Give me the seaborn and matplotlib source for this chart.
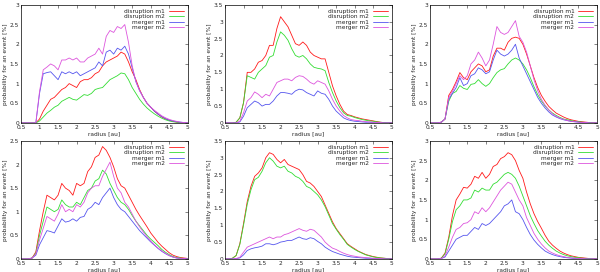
import numpy as np
import pandas as pd
import seaborn as sns
import matplotlib.pyplot as plt
from matplotlib.ticker import FormatStrFormatter

# radius grid [au], 0.5 .. 5.0 in steps of 0.1
radius = np.round(np.arange(0.5, 5.01, 0.1), 1)
series_names = ['disruption m1', 'disruption m2', 'merger m1', 'merger m2']
series_colors = ['#ff1a1a', '#33dd33', '#5555ee', '#dd55dd']

# panel 1 (top left)
p1_dis_m1 = [0, 0, 0, 0, 0, 0.1, 0.3, 0.45, 0.6, 0.65, 0.75, 0.85, 0.9, 1.0, 0.95,
             0.9, 1.05, 1.1, 1.1, 1.15, 1.25, 1.3, 1.45, 1.55, 1.6, 1.65, 1.7, 1.8, 1.75, 1.55,
             1.3, 1.1, 0.85, 0.65, 0.5, 0.4, 0.3, 0.22, 0.15, 0.1, 0.07, 0.04, 0.02, 0.01, 0.005, 0]
p1_dis_m2 = [0, 0, 0, 0, 0, 0.05, 0.15, 0.25, 0.32, 0.4, 0.45, 0.55, 0.6, 0.65, 0.6,
             0.58, 0.65, 0.72, 0.7, 0.75, 0.85, 0.88, 0.9, 1.0, 1.1, 1.15, 1.2, 1.27, 1.25, 1.1,
             0.9, 0.75, 0.6, 0.48, 0.38, 0.3, 0.23, 0.17, 0.12, 0.08, 0.05, 0.03, 0.02, 0.01, 0.005, 0]
p1_mer_m1 = [0, 0, 0, 0, 0, 0.75, 1.25, 1.28, 1.3, 1.2, 1.1, 1.3, 1.25, 1.3, 1.25,
             1.3, 1.2, 1.25, 1.3, 1.35, 1.4, 1.55, 1.45, 1.8, 1.85, 1.75, 1.9, 1.85, 1.95, 1.75,
             1.4, 1.05, 0.82, 0.65, 0.5, 0.4, 0.3, 0.22, 0.16, 0.11, 0.07, 0.05, 0.03, 0.02, 0.01, 0]
p1_mer_m2 = [0, 0, 0, 0, 0, 0.8, 1.35, 1.42, 1.5, 1.45, 1.35, 1.6, 1.6, 1.65, 1.6,
             1.65, 1.55, 1.55, 1.65, 1.7, 1.75, 1.9, 1.75, 2.2, 2.35, 2.3, 2.45, 2.4, 2.5, 2.05,
             1.45, 1.05, 0.82, 0.65, 0.5, 0.4, 0.32, 0.25, 0.18, 0.13, 0.09, 0.06, 0.04, 0.02, 0.01, 0]

# panel 2 (top middle)
p2_dis_m1 = [0, 0, 0, 0.02, 0.15, 0.6, 1.5, 1.5, 1.6, 1.8, 1.85, 2.0, 2.3, 2.3, 2.8,
             3.15, 3.0, 2.85, 2.6, 2.35, 2.3, 2.4, 2.3, 2.1, 2.0, 1.95, 1.9, 1.9, 1.5, 1.1,
             0.8, 0.55, 0.35, 0.25, 0.22, 0.18, 0.15, 0.12, 0.1, 0.08, 0.06, 0.04, 0.02, 0.01, 0.005, 0]
p2_dis_m2 = [0, 0, 0, 0.02, 0.15, 0.6, 1.4, 1.35, 1.3, 1.5, 1.6, 1.7, 1.95, 2.0, 2.4,
             2.7, 2.6, 2.45, 2.2, 2.0, 1.95, 2.0, 1.9, 1.75, 1.65, 1.62, 1.6, 1.55, 1.2, 0.9,
             0.65, 0.45, 0.3, 0.22, 0.2, 0.16, 0.13, 0.1, 0.08, 0.06, 0.05, 0.03, 0.02, 0.01, 0.005, 0]
p2_mer_m1 = [0, 0, 0, 0, 0.03, 0.2, 0.45, 0.55, 0.65, 0.6, 0.5, 0.55, 0.55, 0.65, 0.8,
             0.9, 0.9, 0.88, 0.85, 0.95, 1.0, 0.98, 0.9, 0.85, 0.8, 0.95, 0.88, 0.85, 0.7, 0.5,
             0.35, 0.25, 0.15, 0.1, 0.07, 0.05, 0.04, 0.03, 0.02, 0.02, 0.01, 0.01, 0, 0, 0, 0]
p2_mer_m2 = [0, 0, 0, 0, 0.05, 0.3, 0.65, 0.75, 0.92, 0.85, 0.75, 0.85, 0.8, 1.0, 1.2,
             1.25, 1.3, 1.3, 1.25, 1.35, 1.4, 1.38, 1.3, 1.2, 1.15, 1.25, 1.2, 1.15, 0.95, 0.7,
             0.5, 0.35, 0.22, 0.15, 0.1, 0.08, 0.07, 0.05, 0.04, 0.03, 0.02, 0.01, 0.01, 0, 0, 0]

# panel 3 (top right)
p3_dis_m1 = [0, 0, 0, 0.02, 0.1, 0.7, 0.85, 1.05, 1.28, 1.15, 1.1, 1.3, 1.4, 1.5, 1.45,
             1.3, 1.35, 1.7, 1.9, 1.9, 1.85, 2.05, 2.15, 2.18, 2.15, 2.0, 1.75, 1.45, 1.15, 0.9,
             0.7, 0.55, 0.42, 0.33, 0.25, 0.2, 0.15, 0.11, 0.08, 0.06, 0.04, 0.03, 0.02, 0.01, 0.005, 0]
p3_dis_m2 = [0, 0, 0, 0.02, 0.1, 0.55, 0.75, 0.8, 0.95, 0.88, 0.85, 0.98, 1.0, 1.1, 1.0,
             0.93, 1.0, 1.15, 1.28, 1.35, 1.38, 1.5, 1.6, 1.65, 1.6, 1.5, 1.35, 1.15, 0.92, 0.72,
             0.56, 0.43, 0.33, 0.25, 0.19, 0.14, 0.1, 0.08, 0.06, 0.04, 0.03, 0.02, 0.01, 0.01, 0, 0]
p3_mer_m1 = [0, 0, 0, 0.02, 0.1, 0.6, 0.75, 0.9, 1.15, 0.95, 1.0, 1.2, 1.25, 1.4, 1.35,
             1.25, 1.3, 1.6, 1.85, 1.75, 1.7, 1.75, 1.85, 2.0, 1.65, 1.45, 1.25, 1.05, 0.85, 0.65,
             0.5, 0.38, 0.28, 0.2, 0.15, 0.11, 0.08, 0.06, 0.04, 0.03, 0.02, 0.01, 0.01, 0, 0, 0]
p3_mer_m2 = [0, 0, 0, 0.02, 0.1, 0.65, 0.8, 1.0, 1.2, 1.1, 1.2, 1.5, 1.6, 1.8, 1.65,
             1.45, 1.6, 2.0, 2.45, 2.3, 2.25, 2.3, 2.45, 2.6, 2.2, 2.05, 1.8, 1.45, 1.1, 0.82,
             0.6, 0.45, 0.33, 0.23, 0.17, 0.12, 0.09, 0.06, 0.04, 0.03, 0.02, 0.01, 0.01, 0, 0, 0]

# panel 4 (bottom left)
p4_dis_m1 = [0, 0, 0, 0.02, 0.15, 0.6, 1.0, 1.35, 1.3, 1.25, 1.35, 1.6, 1.5, 1.45, 1.35,
             1.6, 1.55, 1.6, 1.85, 1.95, 2.15, 2.2, 2.38, 2.3, 2.15, 1.95, 1.7, 1.55, 1.5, 1.35,
             1.2, 1.05, 0.92, 0.8, 0.68, 0.55, 0.45, 0.35, 0.27, 0.2, 0.13, 0.08, 0.05, 0.03, 0.02, 0.01]
p4_dis_m2 = [0, 0, 0, 0.02, 0.12, 0.5, 0.8, 1.1, 1.05, 1.0, 1.05, 1.25, 1.15, 1.1, 1.1,
             1.2, 1.15, 1.3, 1.45, 1.5, 1.65, 1.7, 1.88, 1.8, 1.6, 1.45, 1.3, 1.2, 1.15, 1.05,
             0.92, 0.8, 0.7, 0.6, 0.5, 0.42, 0.35, 0.28, 0.2, 0.14, 0.09, 0.05, 0.03, 0.02, 0.01, 0.01]
p4_mer_m1 = [0, 0, 0, 0.02, 0.08, 0.3, 0.45, 0.6, 0.58, 0.55, 0.7, 0.85, 0.78, 0.8, 0.85,
             0.8, 0.88, 0.9, 1.05, 1.1, 1.2, 1.15, 1.3, 1.4, 1.5, 1.3, 1.15, 1.05, 1.0, 0.9,
             0.8, 0.7, 0.6, 0.52, 0.44, 0.36, 0.29, 0.22, 0.16, 0.11, 0.07, 0.04, 0.02, 0.01, 0.01, 0]
p4_mer_m2 = [0, 0, 0, 0.02, 0.1, 0.4, 0.65, 0.9, 0.85, 0.8, 0.95, 1.15, 1.0, 1.05, 1.0,
             1.15, 1.1, 1.2, 1.4, 1.5, 1.55, 1.55, 1.75, 1.9, 2.05, 1.75, 1.5, 1.4, 1.2, 1.1,
             0.95, 0.8, 0.68, 0.57, 0.47, 0.38, 0.3, 0.23, 0.17, 0.12, 0.07, 0.04, 0.02, 0.01, 0.01, 0]

# panel 5 (bottom middle)
p5_dis_m1 = [0, 0, 0.02, 0.1, 0.45, 1.05, 1.7, 2.15, 2.45, 2.55, 2.7, 3.0, 3.15, 3.1, 2.95,
             2.85, 2.95, 2.8, 2.75, 2.7, 2.65, 2.5, 2.3, 2.25, 2.15, 2.0, 1.85, 1.6, 1.35, 1.1,
             0.9, 0.75, 0.6, 0.45, 0.37, 0.3, 0.23, 0.18, 0.13, 0.1, 0.07, 0.05, 0.03, 0.02, 0.01, 0]
p5_dis_m2 = [0, 0, 0.02, 0.1, 0.43, 1.0, 1.62, 2.05, 2.35, 2.42, 2.6, 2.85, 3.0, 2.9, 2.75,
             2.7, 2.75, 2.6, 2.55, 2.45, 2.4, 2.3, 2.15, 2.1, 2.0, 1.9, 1.75, 1.55, 1.3, 1.05,
             0.88, 0.72, 0.58, 0.43, 0.35, 0.28, 0.22, 0.17, 0.12, 0.09, 0.06, 0.04, 0.03, 0.02, 0.01, 0]
p5_mer_m1 = [0, 0, 0, 0.01, 0.03, 0.12, 0.25, 0.3, 0.33, 0.35, 0.38, 0.45, 0.45, 0.42, 0.45,
             0.5, 0.52, 0.55, 0.55, 0.6, 0.65, 0.6, 0.58, 0.63, 0.6, 0.52, 0.45, 0.35, 0.28, 0.22,
             0.18, 0.14, 0.11, 0.08, 0.06, 0.05, 0.04, 0.03, 0.02, 0.02, 0.01, 0.01, 0, 0, 0, 0]
p5_mer_m2 = [0, 0, 0, 0.01, 0.05, 0.2, 0.35, 0.4, 0.45, 0.5, 0.55, 0.6, 0.65, 0.6, 0.65,
             0.65, 0.72, 0.75, 0.8, 0.85, 0.9, 0.85, 0.82, 0.88, 0.85, 0.75, 0.65, 0.5, 0.4, 0.32,
             0.28, 0.22, 0.17, 0.13, 0.1, 0.08, 0.06, 0.05, 0.04, 0.03, 0.02, 0.01, 0.01, 0, 0, 0]

# panel 6 (bottom right)
p6_dis_m1 = [0, 0, 0, 0.02, 0.15, 0.55, 1.1, 1.5, 1.65, 1.82, 1.8, 1.9, 2.1, 2.05, 2.2,
             2.05, 2.15, 2.35, 2.4, 2.55, 2.6, 2.7, 2.65, 2.5, 2.25, 2.05, 1.7, 1.4, 1.15, 0.95,
             0.78, 0.6, 0.45, 0.35, 0.27, 0.2, 0.15, 0.11, 0.08, 0.06, 0.04, 0.03, 0.02, 0.01, 0.005, 0]
p6_dis_m2 = [0, 0, 0, 0.02, 0.13, 0.5, 0.95, 1.25, 1.35, 1.5, 1.5, 1.55, 1.75, 1.7, 1.8,
             1.75, 1.75, 1.9, 1.95, 2.05, 2.15, 2.2, 2.15, 2.05, 1.85, 1.6, 1.35, 1.1, 0.9, 0.72,
             0.58, 0.45, 0.35, 0.27, 0.2, 0.15, 0.11, 0.08, 0.06, 0.04, 0.03, 0.02, 0.01, 0.01, 0, 0]
p6_mer_m1 = [0, 0, 0, 0.01, 0.05, 0.2, 0.35, 0.5, 0.55, 0.6, 0.6, 0.7, 0.8, 0.75, 0.9,
             0.85, 0.9, 1.0, 1.1, 1.2, 1.35, 1.4, 1.5, 1.2, 1.15, 1.0, 0.8, 0.62, 0.48, 0.37,
             0.28, 0.2, 0.15, 0.11, 0.08, 0.06, 0.04, 0.03, 0.02, 0.01, 0.01, 0, 0, 0, 0, 0]
p6_mer_m2 = [0, 0, 0, 0.01, 0.08, 0.3, 0.55, 0.75, 0.8, 0.9, 0.92, 1.0, 1.2, 1.15, 1.3,
             1.2, 1.3, 1.45, 1.6, 1.75, 1.85, 1.95, 1.9, 1.7, 1.5, 1.35, 1.05, 0.85, 0.65, 0.5,
             0.38, 0.28, 0.2, 0.15, 0.11, 0.08, 0.06, 0.04, 0.03, 0.02, 0.01, 0.01, 0, 0, 0, 0]

panels = [
    ([p1_dis_m1, p1_dis_m2, p1_mer_m1, p1_mer_m2], 3.0),
    ([p2_dis_m1, p2_dis_m2, p2_mer_m1, p2_mer_m2], 3.5),
    ([p3_dis_m1, p3_dis_m2, p3_mer_m1, p3_mer_m2], 3.0),
    ([p4_dis_m1, p4_dis_m2, p4_mer_m1, p4_mer_m2], 2.5),
    ([p5_dis_m1, p5_dis_m2, p5_mer_m1, p5_mer_m2], 3.5),
    ([p6_dis_m1, p6_dis_m2, p6_mer_m1, p6_mer_m2], 3.0),
]

sns.set_style("white")
plt.rcParams['font.family'] = ['DejaVu Sans']

fig = plt.figure(figsize=(6, 2.72), dpi=100)
lefts = [0.035, 0.375, 0.717]
bottoms = [0.548, 0.048]
w, h = 0.278, 0.434
fs = 4.2

for i, (vals, ymax) in enumerate(panels):
    ax = fig.add_axes([lefts[i % 3], bottoms[i // 3], w, h])
    df = pd.DataFrame({
        'radius': np.tile(radius, 4),
        'prob': np.concatenate(vals),
        'series': np.repeat(series_names, len(radius)),
    })
    sns.lineplot(data=df, x='radius', y='prob', hue='series', palette=series_colors,
                 linewidth=0.6, ax=ax, legend=False)
    ax.set_xlim(0.5, 5)
    ax.set_ylim(0, ymax)
    ax.set_xticks(np.arange(0.5, 5.01, 0.5))
    ax.set_yticks(np.arange(0, ymax + 0.01, 0.5))
    ax.xaxis.set_major_formatter(FormatStrFormatter('%g'))
    ax.yaxis.set_major_formatter(FormatStrFormatter('%g'))
    ax.tick_params(direction='in', length=2, width=0.4, labelsize=fs, pad=1.5,
                   top=True, right=True)
    for s in ax.spines.values():
        s.set_linewidth(0.5)
        s.set_color('black')
    ax.set_xlabel('radius [au]', fontsize=fs, labelpad=1)
    ax.set_ylabel('probability for an event [%]', fontsize=fs, labelpad=1)
    ax.legend(ax.get_lines()[:4], series_names, loc='upper right', fontsize=fs,
              markerfirst=False, frameon=False, handlelength=2.6, handletextpad=0.6,
              labelspacing=0.05, borderaxespad=0.3)

fig.savefig('out.png', dpi=100)
